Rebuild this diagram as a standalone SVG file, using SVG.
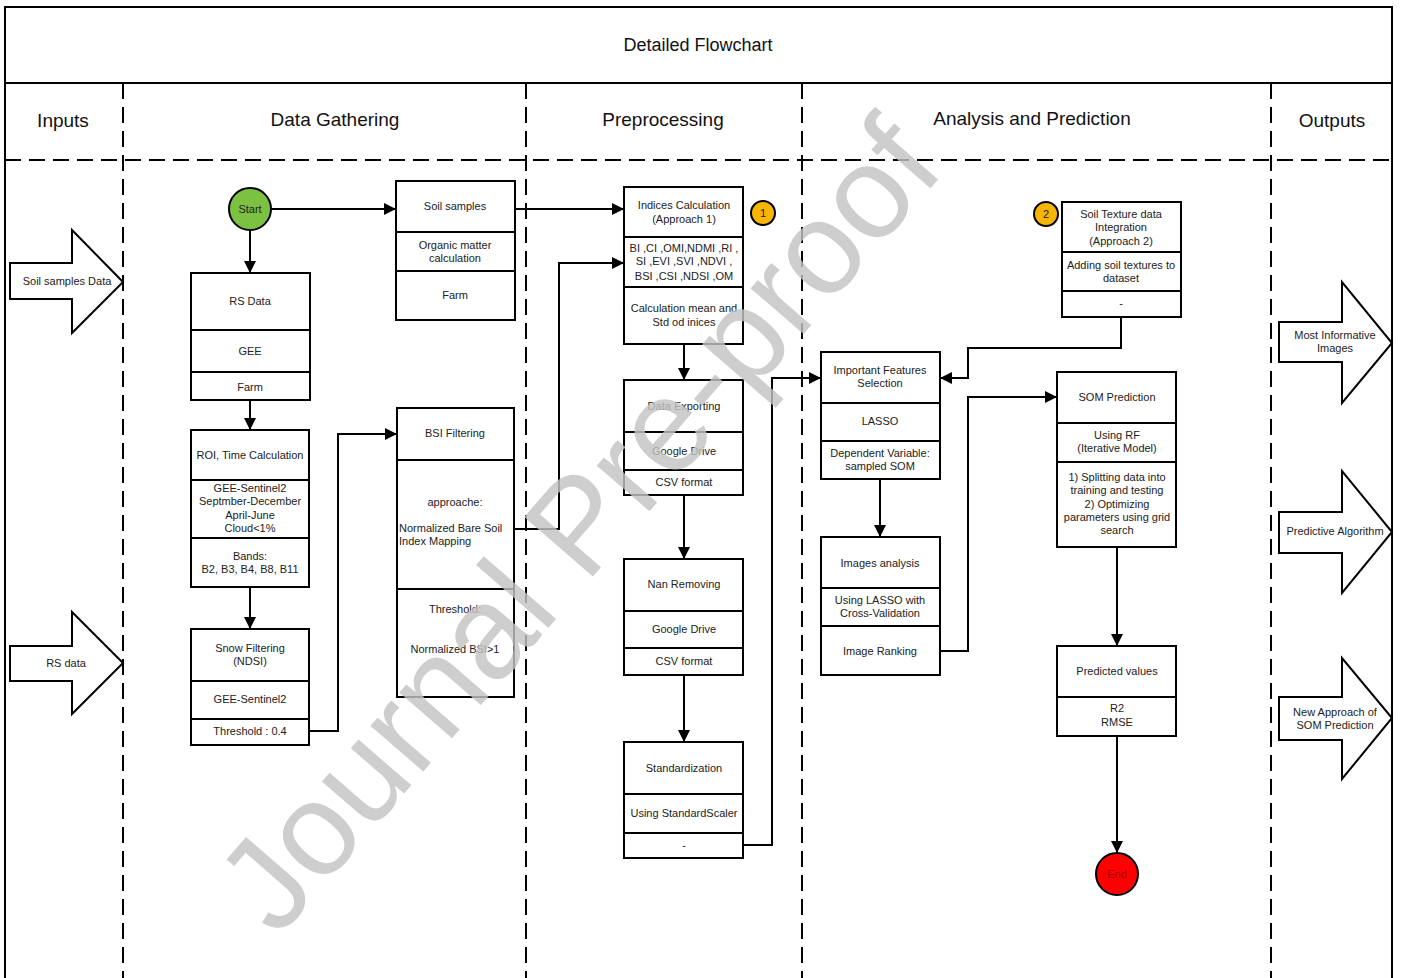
<svg xmlns="http://www.w3.org/2000/svg" width="1402" height="978" viewBox="0 0 1402 978">
<style>
.bx{fill:#fff;stroke:#000;stroke-width:2}
.dv{stroke:#000;stroke-width:2}
.t{font-family:"Liberation Sans",Arial,sans-serif;font-size:11px;fill:#222;text-anchor:middle}
.tl{font-family:"Liberation Sans",Arial,sans-serif;font-size:11px;fill:#222;text-anchor:start}
.h{font-family:"Liberation Sans",Arial,sans-serif;font-size:19px;fill:#111;text-anchor:middle}
.c{fill:none;stroke:#000;stroke-width:2;marker-end:url(#ah)}
.dash{stroke:#000;stroke-width:2;stroke-dasharray:16 8;fill:none}
.io{fill:#fff;stroke:#000;stroke-width:2;stroke-linejoin:miter}
</style>
<defs>
<marker id="ah" markerUnits="userSpaceOnUse" markerWidth="12" markerHeight="12" refX="11" refY="6" orient="auto">
<path d="M0,0 L12,6 L0,12 z" fill="#000"/>
</marker>
</defs>
<rect width="1402" height="978" fill="#fff"/>
<g id="frame">
<rect x="5" y="7" width="1387" height="990" fill="none" stroke="#000" stroke-width="2"/>
<line x1="5" y1="83" x2="1392" y2="83" stroke="#000" stroke-width="2"/>
<line x1="5" y1="160" x2="1392" y2="160" class="dash"/>
<line x1="123" y1="83" x2="123" y2="978" class="dash"/>
<line x1="526" y1="83" x2="526" y2="978" class="dash"/>
<line x1="802" y1="83" x2="802" y2="978" class="dash"/>
<line x1="1271" y1="83" x2="1271" y2="978" class="dash"/>
<text x="698" y="51" class="h" style="font-size:18px">Detailed Flowchart</text>
<text x="63" y="127" class="h">Inputs</text>
<text x="335" y="126" class="h">Data Gathering</text>
<text x="663" y="126" class="h">Preprocessing</text>
<text x="1032" y="125" class="h">Analysis and Prediction</text>
<text x="1332" y="127" class="h">Outputs</text>
</g>
<g id="connectors">
<path class="c" d="M250,230 V272"/>
<path class="c" d="M271,209 H395"/>
<path class="c" d="M515,209 H623"/>
<path class="c" d="M250,400 V429"/>
<path class="c" d="M250,587 V628"/>
<path class="c" d="M309,731 H338 V434 H396"/>
<path class="c" d="M514,529 H559 V263 H623"/>
<path class="c" d="M684,344 V379"/>
<path class="c" d="M684,495 V558"/>
<path class="c" d="M684,675 V741"/>
<path class="c" d="M743,845 H772 V378 H820"/>
<path class="c" d="M880,479 V536"/>
<path class="c" d="M940,651 H968 V397 H1056"/>
<path class="c" d="M1121,317 V348 H968 V378 H941"/>
<path class="c" d="M1117,547 V645"/>
<path class="c" d="M1117,736 V852"/>
</g>
<g id="in-soil">
<polygon class="io" points="10,263 72,263 72,230 123,282 72,333 72,299 10,299"/>
<text x="67" y="285" class="t">Soil samples Data</text>
</g>
<g id="in-rs">
<polygon class="io" points="10,646 72,646 72,612 123,663 72,714 72,681 10,681"/>
<text x="66" y="667" class="t">RS data</text>
</g>
<g id="start">
<circle cx="250" cy="209" r="21" fill="#7cc142" stroke="#000" stroke-width="2"/>
<text x="250" y="213" class="t">Start</text>
</g>
<g id="rsdata">
<rect class="bx" x="191" y="273" width="119" height="127"/>
<line class="dv" x1="191" y1="330" x2="310" y2="330"/>
<line class="dv" x1="191" y1="372" x2="310" y2="372"/>
<text x="250" y="305" class="t">RS Data</text>
<text x="250" y="355" class="t">GEE</text>
<text x="250" y="391" class="t">Farm</text>
</g>
<g id="roi">
<rect class="bx" x="191" y="430" width="118" height="157"/>
<line class="dv" x1="191" y1="480" x2="309" y2="480"/>
<line class="dv" x1="191" y1="538" x2="309" y2="538"/>
<text x="250" y="459" class="t">ROI, Time Calculation</text>
<text x="250" y="492" class="t">GEE-Sentinel2</text>
<text x="250" y="505" class="t">Septmber-December</text>
<text x="250" y="519" class="t">April-June</text>
<text x="250" y="532" class="t">Cloud&lt;1%</text>
<text x="250" y="560" class="t">Bands:</text>
<text x="250" y="573" class="t">B2, B3, B4, B8, B11</text>
</g>
<g id="snow">
<rect class="bx" x="191" y="629" width="118" height="116"/>
<line class="dv" x1="191" y1="681" x2="309" y2="681"/>
<line class="dv" x1="191" y1="719" x2="309" y2="719"/>
<text x="250" y="652" class="t">Snow Filtering</text>
<text x="250" y="665" class="t">(NDSI)</text>
<text x="250" y="703" class="t">GEE-Sentinel2</text>
<text x="250" y="735" class="t">Threshold : 0.4</text>
</g>
<g id="soilsamples">
<rect class="bx" x="396" y="181" width="119" height="139"/>
<line class="dv" x1="396" y1="232" x2="515" y2="232"/>
<line class="dv" x1="396" y1="271" x2="515" y2="271"/>
<text x="455" y="210" class="t">Soil samples</text>
<text x="455" y="249" class="t">Organic matter</text>
<text x="455" y="262" class="t">calculation</text>
<text x="455" y="299" class="t">Farm</text>
</g>
<g id="bsi">
<rect class="bx" x="397" y="408" width="117" height="289"/>
<line class="dv" x1="397" y1="460" x2="514" y2="460"/>
<line class="dv" x1="397" y1="589" x2="514" y2="589"/>
<text x="455" y="437" class="t">BSI Filtering</text>
<text x="455" y="506" class="t">approache:</text>
<text x="399" y="532" class="tl">Normalized Bare Soil</text>
<text x="399" y="545" class="tl">Index Mapping</text>
<text x="455" y="613" class="t">Threshold:</text>
<text x="455" y="653" class="t">Normalized BSI&gt;1</text>
</g>
<g id="indices">
<rect class="bx" x="624" y="187" width="119" height="157"/>
<line class="dv" x1="624" y1="237" x2="743" y2="237"/>
<line class="dv" x1="624" y1="287" x2="743" y2="287"/>
<text x="684" y="209" class="t">Indices Calculation</text>
<text x="684" y="223" class="t">(Approach 1)</text>
<text x="684" y="252" class="t">BI ,CI ,OMI,NDMI ,RI ,</text>
<text x="684" y="265" class="t">SI ,EVI ,SVI ,NDVI ,</text>
<text x="684" y="280" class="t">BSI ,CSI ,NDSI ,OM</text>
<text x="684" y="312" class="t">Calculation mean and</text>
<text x="684" y="326" class="t">Std od inices</text>
</g>
<g id="badge1">
<circle cx="763" cy="213" r="12" fill="#f7b500" stroke="#000" stroke-width="2"/>
<text x="763" y="217" class="t">1</text>
</g>
<g id="export">
<rect class="bx" x="624" y="380" width="119" height="115"/>
<line class="dv" x1="624" y1="432" x2="743" y2="432"/>
<line class="dv" x1="624" y1="470" x2="743" y2="470"/>
<text x="684" y="410" class="t">Data Exporting</text>
<text x="684" y="455" class="t">Google Drive</text>
<text x="684" y="486" class="t">CSV format</text>
</g>
<g id="nan">
<rect class="bx" x="624" y="559" width="119" height="116"/>
<line class="dv" x1="624" y1="611" x2="743" y2="611"/>
<line class="dv" x1="624" y1="648" x2="743" y2="648"/>
<text x="684" y="588" class="t">Nan Removing</text>
<text x="684" y="633" class="t">Google Drive</text>
<text x="684" y="665" class="t">CSV format</text>
</g>
<g id="std">
<rect class="bx" x="624" y="742" width="119" height="116"/>
<line class="dv" x1="624" y1="794" x2="743" y2="794"/>
<line class="dv" x1="624" y1="833" x2="743" y2="833"/>
<text x="684" y="772" class="t">Standardization</text>
<text x="684" y="817" class="t">Using StandardScaler</text>
<text x="684" y="849" class="t">-</text>
</g>
<g id="features">
<rect class="bx" x="821" y="352" width="119" height="127"/>
<line class="dv" x1="821" y1="403" x2="940" y2="403"/>
<line class="dv" x1="821" y1="441" x2="940" y2="441"/>
<text x="880" y="374" class="t">Important Features</text>
<text x="880" y="387" class="t">Selection</text>
<text x="880" y="425" class="t">LASSO</text>
<text x="880" y="457" class="t">Dependent Variable:</text>
<text x="880" y="470" class="t">sampled SOM</text>
</g>
<g id="images">
<rect class="bx" x="821" y="537" width="119" height="138"/>
<line class="dv" x1="821" y1="588" x2="940" y2="588"/>
<line class="dv" x1="821" y1="626" x2="940" y2="626"/>
<text x="880" y="567" class="t">Images analysis</text>
<text x="880" y="604" class="t">Using LASSO with</text>
<text x="880" y="617" class="t">Cross-Validation</text>
<text x="880" y="655" class="t">Image Ranking</text>
</g>
<g id="texture">
<rect class="bx" x="1062" y="202" width="119" height="115"/>
<line class="dv" x1="1062" y1="252" x2="1181" y2="252"/>
<line class="dv" x1="1062" y1="291" x2="1181" y2="291"/>
<text x="1121" y="218" class="t">Soil Texture data</text>
<text x="1121" y="231" class="t">Integration</text>
<text x="1121" y="245" class="t">(Approach 2)</text>
<text x="1121" y="269" class="t">Adding soil textures to</text>
<text x="1121" y="282" class="t">dataset</text>
<text x="1121" y="307" class="t">-</text>
</g>
<g id="badge2">
<circle cx="1046" cy="214" r="12" fill="#f7b500" stroke="#000" stroke-width="2"/>
<text x="1046" y="218" class="t">2</text>
</g>
<g id="som">
<rect class="bx" x="1057" y="372" width="119" height="175"/>
<line class="dv" x1="1057" y1="423" x2="1176" y2="423"/>
<line class="dv" x1="1057" y1="462" x2="1176" y2="462"/>
<text x="1117" y="401" class="t">SOM Prediction</text>
<text x="1117" y="439" class="t">Using RF</text>
<text x="1117" y="452" class="t">(Iterative Model)</text>
<text x="1117" y="481" class="t">1) Splitting data into</text>
<text x="1117" y="494" class="t">training and testing</text>
<text x="1117" y="508" class="t">2) Optimizing</text>
<text x="1117" y="521" class="t">parameters using grid</text>
<text x="1117" y="534" class="t">search</text>
</g>
<g id="predicted">
<rect class="bx" x="1057" y="646" width="119" height="90"/>
<line class="dv" x1="1057" y1="697" x2="1176" y2="697"/>
<text x="1117" y="675" class="t">Predicted values</text>
<text x="1117" y="712" class="t">R2</text>
<text x="1117" y="726" class="t">RMSE</text>
</g>
<g id="end">
<circle cx="1117" cy="874" r="21" fill="#f00" stroke="#000" stroke-width="2"/>
<text x="1117" y="878" class="t" style="fill:#a00000">End</text>
</g>
<g id="out-images">
<polygon class="io" points="1279,322 1342,322 1342,282 1392,343 1342,403 1342,362 1279,362"/>
<text x="1335" y="339" class="t">Most Informative</text>
<text x="1335" y="352" class="t">Images</text>
</g>
<g id="out-algo">
<polygon class="io" points="1279,512 1342,512 1342,471 1392,532 1342,593 1342,553 1279,553"/>
<text x="1335" y="535" class="t">Predictive Algorithm</text>
</g>
<g id="out-approach">
<polygon class="io" points="1279,697 1342,697 1342,658 1392,718 1342,779 1342,740 1279,740"/>
<text x="1335" y="716" class="t">New Approach of</text>
<text x="1335" y="729" class="t">SOM Prediction</text>
</g>
<g id="watermark" opacity="0.82">
<text transform="translate(582,528) rotate(-49)" x="0" y="40" style="font-family:'Liberation Sans',Arial,sans-serif;font-size:132px;fill:#c4c4c4;text-anchor:middle">Journal Pre-proof</text>
</g>
</svg>
